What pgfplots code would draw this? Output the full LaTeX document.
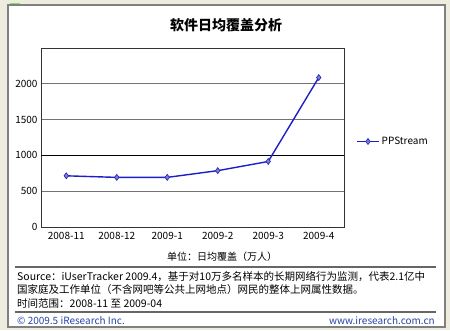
\documentclass[border=0pt]{standalone}
\usepackage{pgfplots}
\pgfplotsset{compat=1.18}
\usepackage{fontspec}
\setmainfont{Noto Sans CJK SC}
\definecolor{bg}{RGB}{238,236,222}
\definecolor{framec}{RGB}{128,128,128}
\definecolor{linec}{RGB}{30,30,200}
\definecolor{mkc}{RGB}{125,125,195}
\definecolor{footc}{RGB}{40,70,165}
\begin{document}
\begin{tikzpicture}
\fill[bg] (0,0) rectangle (450pt,-330pt);
\fill[green!60!olive!60] (10pt,-2.5pt) rectangle (20pt,-4pt);
\draw[framec, line width=1.5pt, fill=white] (8pt,-5pt) rectangle (445pt,-327pt);
\begin{axis}[
  at={(41pt,-227pt)}, anchor=south west,
  scale only axis, width=303pt, height=179pt,
  xmin=-0.5, xmax=5.5, ymin=0, ymax=2500,
  ytick={0,500,1000,1500,2000},
  xtick={0,1,2,3,4,5},
  xticklabels={2008-11,2008-12,2009-1,2009-2,2009-3,2009-4},
  ymajorgrids, grid style={black!55, line width=0.9pt},
  extra y ticks={1000}, extra y tick labels={},
  extra y tick style={grid style={black, line width=0.9pt}},
  major tick length=0pt,
  axis line style={black!80, line width=0.9pt},
  tick label style={font=\fontsize{10}{12}\selectfont},
  xticklabel style={yshift=-2pt},
  /pgf/number format/assume math mode=true,
  /pgf/number format/set thousands separator={},
  legend style={at={(1.04,0.478)}, anchor=west, draw=none, fill=none,
    font=\fontsize{10}{12}\selectfont, inner sep=0pt},
  legend image code/.code={\draw[mark repeat=2,mark phase=2,#1] plot coordinates {(0pt,0pt)(11pt,0pt)(22pt,0pt)};},
]
\addplot[color=linec, line width=1.4pt, mark=diamond*, mark size=3pt,
  mark options={fill=mkc, draw=linec, line width=0.6pt}]
  coordinates {(0,715) (1,693) (2,693) (3,787) (4,915) (5,2088)};
\addlegendentry{PPStream}
\end{axis}
\node[font=\fontsize{14}{16}\selectfont\bfseries] at (226pt,-25pt) {软件日均覆盖分析};
\node[font=\fontsize{10}{12}\selectfont] at (222pt,-257pt) {单位：日均覆盖（万人）};
\draw[black!60, line width=1.2pt] (15pt,-267pt) -- (436pt,-267pt);
\node[anchor=west, inner sep=0pt, font=\fontsize{10.5}{12}\selectfont] at (17pt,-276.5pt) {Source：iUserTracker 2009.4，基于对10万多名样本的长期网络行为监测，代表2.1亿中};
\node[anchor=west, inner sep=0pt, font=\fontsize{10.5}{12}\selectfont] at (17pt,-289.5pt) {国家庭及工作单位（不含网吧等公共上网地点）网民的整体上网属性数据。};
\node[anchor=west, inner sep=0pt, font=\fontsize{10.5}{12}\selectfont] at (17pt,-304pt) {时间范围：2008-11 至 2009-04};
\draw[black!60, line width=1.2pt] (15pt,-312pt) -- (436pt,-312pt);
\node[anchor=west, inner sep=0pt, text=footc, font=\fontsize{10}{12}\selectfont] at (17pt,-320.5pt) {© 2009.5 iResearch Inc.};
\node[anchor=east, inner sep=0pt, text=footc, font=\fontsize{10}{12}\selectfont] at (435pt,-320.5pt) {www.iresearch.com.cn};
\end{tikzpicture}
\end{document}
